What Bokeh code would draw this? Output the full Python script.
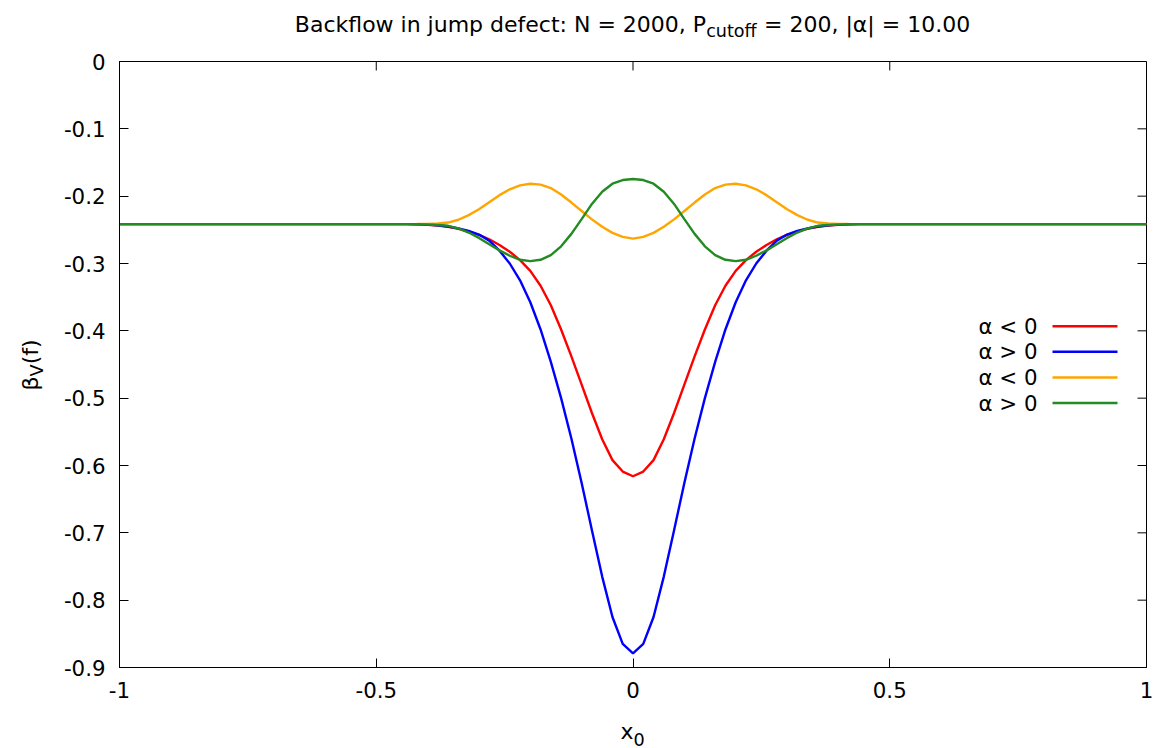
import numpy as np
from bokeh.plotting import figure
from bokeh.layouts import column, row
from bokeh.models import Label, FixedTicker, Range1d
from bokeh.embed import file_html
from bokeh.resources import INLINE

# ---------------- data ----------------
x0 = [-1.0, -0.8, -0.6, -0.5, -0.46,
      -0.44, -0.42, -0.40, -0.38, -0.36, -0.34, -0.32, -0.30, -0.28, -0.26, -0.24,
      -0.22, -0.20, -0.18, -0.16, -0.14, -0.12, -0.10, -0.08, -0.06, -0.04, -0.02,
      0.0,
      0.02, 0.04, 0.06, 0.08, 0.10, 0.12, 0.14, 0.16, 0.18, 0.20, 0.22,
      0.24, 0.26, 0.28, 0.30, 0.32, 0.34, 0.36, 0.38, 0.40, 0.42, 0.44,
      0.46, 0.5, 0.6, 0.8, 1.0]

beta_red = [-0.2415, -0.2415, -0.2415, -0.2415, -0.2415,
            -0.2415, -0.2418, -0.2425, -0.2435, -0.2455, -0.2485, -0.2525, -0.2575, -0.2640, -0.2725, -0.2825,
            -0.2950, -0.3110, -0.3330, -0.3620, -0.3980, -0.4380, -0.4800, -0.5220, -0.5610, -0.5920, -0.6090,
            -0.6160,
            -0.6090, -0.5920, -0.5610, -0.5220, -0.4800, -0.4380, -0.3980, -0.3620, -0.3330, -0.3110, -0.2950,
            -0.2825, -0.2725, -0.2640, -0.2575, -0.2525, -0.2485, -0.2455, -0.2435, -0.2425, -0.2418, -0.2415,
            -0.2415, -0.2415, -0.2415, -0.2415, -0.2415]

beta_blue = [-0.2415, -0.2415, -0.2415, -0.2415, -0.2415,
             -0.2415, -0.2418, -0.2423, -0.2432, -0.2450, -0.2478, -0.2515, -0.2570, -0.2660, -0.2810, -0.3000,
             -0.3250, -0.3575, -0.3980, -0.4460, -0.5000, -0.5600, -0.6260, -0.6960, -0.7650, -0.8250, -0.8650,
             -0.8790,
             -0.8650, -0.8250, -0.7650, -0.6960, -0.6260, -0.5600, -0.5000, -0.4460, -0.3980, -0.3575, -0.3250,
             -0.3000, -0.2810, -0.2660, -0.2570, -0.2515, -0.2478, -0.2450, -0.2432, -0.2423, -0.2418, -0.2415,
             -0.2415, -0.2415, -0.2415, -0.2415, -0.2415]

beta_orange = [-0.2415, -0.2415, -0.2415, -0.2415, -0.2415,
               -0.2415, -0.2414, -0.2411, -0.2405, -0.2392, -0.2350, -0.2282, -0.2195, -0.2090, -0.1985, -0.1898,
               -0.1840, -0.1815, -0.1828, -0.1880, -0.1975, -0.2095, -0.2220, -0.2345, -0.2455, -0.2545, -0.2605,
               -0.2630,
               -0.2605, -0.2545, -0.2455, -0.2345, -0.2220, -0.2095, -0.1975, -0.1880, -0.1828, -0.1815, -0.1840,
               -0.1898, -0.1985, -0.2090, -0.2195, -0.2282, -0.2350, -0.2392, -0.2405, -0.2411, -0.2414, -0.2415,
               -0.2415, -0.2415, -0.2415, -0.2415, -0.2415]

beta_green = [-0.2415, -0.2415, -0.2415, -0.2415, -0.2415,
              -0.2415, -0.2417, -0.2421, -0.2428, -0.2440, -0.2480, -0.2540, -0.2620, -0.2715, -0.2805, -0.2885,
              -0.2945, -0.2965, -0.2945, -0.2875, -0.2745, -0.2560, -0.2340, -0.2115, -0.1935, -0.1815, -0.1760,
              -0.1745,
              -0.1760, -0.1815, -0.1935, -0.2115, -0.2340, -0.2560, -0.2745, -0.2875, -0.2945, -0.2965, -0.2945,
              -0.2885, -0.2805, -0.2715, -0.2620, -0.2540, -0.2480, -0.2440, -0.2428, -0.2421, -0.2417, -0.2415,
              -0.2415, -0.2415, -0.2415, -0.2415, -0.2415]

series_labels = ["α < 0", "α > 0", "α < 0", "α > 0"]
series_colors = ["#ff0000", "#0000ff", "#ffa500", "#228b22"]

x_ticks = [-1, -0.5, 0, 0.5, 1]
x_tick_labels = ["-1", "-0.5", "0", "0.5", "1"]
y_ticks = [0, -0.1, -0.2, -0.3, -0.4, -0.5, -0.6, -0.7, -0.8, -0.9]
y_tick_labels = ["0", "-0.1", "-0.2", "-0.3", "-0.4", "-0.5", "-0.6", "-0.7", "-0.8", "-0.9"]

# text pieces (normal, subscript, normal); a gap of one space follows the subscript in the title
title_parts = ["Backflow in jump defect: N = 2000, P", "cutoff", "= 200, |α| = 10.00"]
xlabel_parts = ["x", "0"]
ylabel_parts = ["β", "V", "(f)"]

# ---------------- layout constants ----------------
W, H = 1159, 748
FL, FR, FT, FB = 119, 1146, 61, 667   # plot frame edges in page pixels
TITLE_H = 45                          # title strip height
YLAB_W = 60                           # y-label strip width
XLAB_TOP = 717                        # top of x-label strip
FONT = "DejaVu Sans"
FPX = 21.33                           # tick / legend text
LPX = 22.0                            # title / axis label text
SUBPX = LPX * 0.8
FS = f"{FPX}px"
FS_L = f"{LPX}px"
FS_SUB = f"{SUBPX:.2f}px"

# DejaVu Sans advance widths (em) for laying out multi-part labels
ADV = {' ': .318, 'B': .686, 'a': .613, 'c': .550, 'k': .579, 'f': .352, 'l': .278, 'o': .612,
       'w': .818, 'i': .278, 'n': .634, 'j': .278, 'u': .634, 'm': .974, 'p': .635, 'd': .635,
       'e': .615, 't': .392, ':': .337, 'N': .748, '=': .838, ',': .318, 'P': .603, '|': .337,
       'α': .659, '.': .318, 'x': .592, 'β': .642, 'V': .684, '(': .390, ')': .390}
def tw(s, px):
    return sum(ADV.get(ch, .636) for ch in s) * px

def strip_fig(w, h):
    f = figure(width=w, height=h, x_range=Range1d(0, 1), y_range=Range1d(0, 1),
               output_backend="svg", toolbar_location=None, min_border=0,
               x_axis_location=None, y_axis_location=None)
    f.grid.visible = False
    f.outline_line_color = None
    f.background_fill_color = "white"
    f.border_fill_color = "white"
    return f

def put(fig, text, sx, sy, size=FS, align="left", angle=0):
    fig.add_layout(Label(x=sx, y=sy, x_units="screen", y_units="screen", text=text,
                         text_font=FONT, text_font_size=size, text_align=align,
                         text_baseline="middle", angle=angle, text_color="black"))

# ---------------- main plot ----------------
main_w = W - YLAB_W
main_h = XLAB_TOP - TITLE_H
p = figure(width=main_w, height=main_h, x_range=Range1d(-1, 1), y_range=Range1d(-0.9, 0),
           output_backend="svg", toolbar_location=None,
           min_border_left=FL - YLAB_W, min_border_right=W - FR,
           min_border_top=FT - TITLE_H, min_border_bottom=XLAB_TOP - FB)
p.grid.visible = False
p.outline_line_color = "black"
p.outline_line_width = 1
p.background_fill_color = "white"
p.border_fill_color = "white"

def style_axis(ax, ticks, labels):
    ax.ticker = FixedTicker(ticks=ticks, minor_ticks=[])
    ax.major_tick_in = 9
    ax.major_tick_out = 0
    ax.minor_tick_in = 0
    ax.minor_tick_out = 0
    ax.axis_line_color = "black"
    ax.major_tick_line_color = "black"
    ax.major_label_text_font = FONT
    ax.major_label_text_font_size = FS
    ax.major_label_text_color = "black"
    ax.major_label_overrides = {t: l for t, l in zip(ticks, labels)}
    ax.major_label_standoff = 14

style_axis(p.xaxis[0], x_ticks, x_tick_labels)
style_axis(p.yaxis[0], y_ticks, y_tick_labels)

# mirrored inward ticks on top and right border (gnuplot box style)
tick_dy = 9 * 0.9 / (FB - FT)
tick_dx = 9 * 2.0 / (FR - FL)
p.segment(x0=x_ticks, y0=[0] * len(x_ticks), x1=x_ticks, y1=[-tick_dy] * len(x_ticks),
          line_color="black", line_width=1)
p.segment(x0=[1] * len(y_ticks), y0=y_ticks, x1=[1 - tick_dx] * len(y_ticks), y1=y_ticks,
          line_color="black", line_width=1)

# curves
for ys, col in zip([beta_red, beta_blue, beta_orange, beta_green], series_colors):
    p.line(x0, ys, line_color=col, line_width=2.4)

# legend, gnuplot style: right-aligned text then a sample line
def dx(px):
    return -1 + (px - FL) / (FR - FL) * 2
def dy(py):
    return -(py - FT) / (FB - FT) * 0.9

leg_y = [325.7, 351.3, 377.0, 402.5]
for lab, col, ly in zip(series_labels, series_colors, leg_y):
    put(p, lab, 1037 - FL, FB - ly, align="right")
    p.segment(x0=[dx(1052)], y0=[dy(ly)], x1=[dx(1117)], y1=[dy(ly)], line_color=col, line_width=2.4)

# ---------------- title strip (frame = whole strip) ----------------
title_fig = strip_fig(W, TITLE_H)
w1 = tw(title_parts[0], LPX)
w2 = tw(title_parts[1], SUBPX)
wsp = tw(" ", LPX)
w3 = tw(title_parts[2], LPX)
tx = 632 - (w1 + w2 + wsp + w3) / 2
mid = 24.2          # page y of the title's text middle
put(title_fig, title_parts[0], tx, TITLE_H - mid, size=FS_L)
put(title_fig, title_parts[1], tx + w1, TITLE_H - (mid + 6.5), size=FS_SUB)
put(title_fig, title_parts[2], tx + w1 + w2 + wsp, TITLE_H - mid, size=FS_L)

# ---------------- y-label strip (its frame is aligned with the main frame) ----------------
ylab_fig = strip_fig(YLAB_W, main_h)
yw1 = tw(ylabel_parts[0], LPX)
yw2 = tw(ylabel_parts[1], SUBPX)
yw3 = tw(ylabel_parts[2], LPX)
ystart = 364.5 + (yw1 + yw2 + yw3) / 2     # page y where the label starts (lower end)
ymid = 30                                  # page x of the text middle
ang = np.pi / 2
def ysy(py):
    return FB - py
put(ylab_fig, ylabel_parts[0], ymid, ysy(ystart), size=FS_L, angle=ang)
put(ylab_fig, ylabel_parts[1], ymid + 6.5, ysy(ystart - yw1), size=FS_SUB, angle=ang)
put(ylab_fig, ylabel_parts[2], ymid, ysy(ystart - yw1 - yw2), size=FS_L, angle=ang)

# ---------------- x-label strip ----------------
xlab_fig = strip_fig(W, H - XLAB_TOP)
xw1 = tw(xlabel_parts[0], LPX)
xw2 = tw(xlabel_parts[1], SUBPX)
xstart = 632 - (xw1 + xw2) / 2
put(xlab_fig, xlabel_parts[0], xstart, H - 731.2, size=FS_L)
put(xlab_fig, xlabel_parts[1], xstart + xw1, H - 738.5, size=FS_SUB)

layout = column(title_fig, row(ylab_fig, p), xlab_fig)
open("out.html", "w").write(file_html(layout, INLINE))
